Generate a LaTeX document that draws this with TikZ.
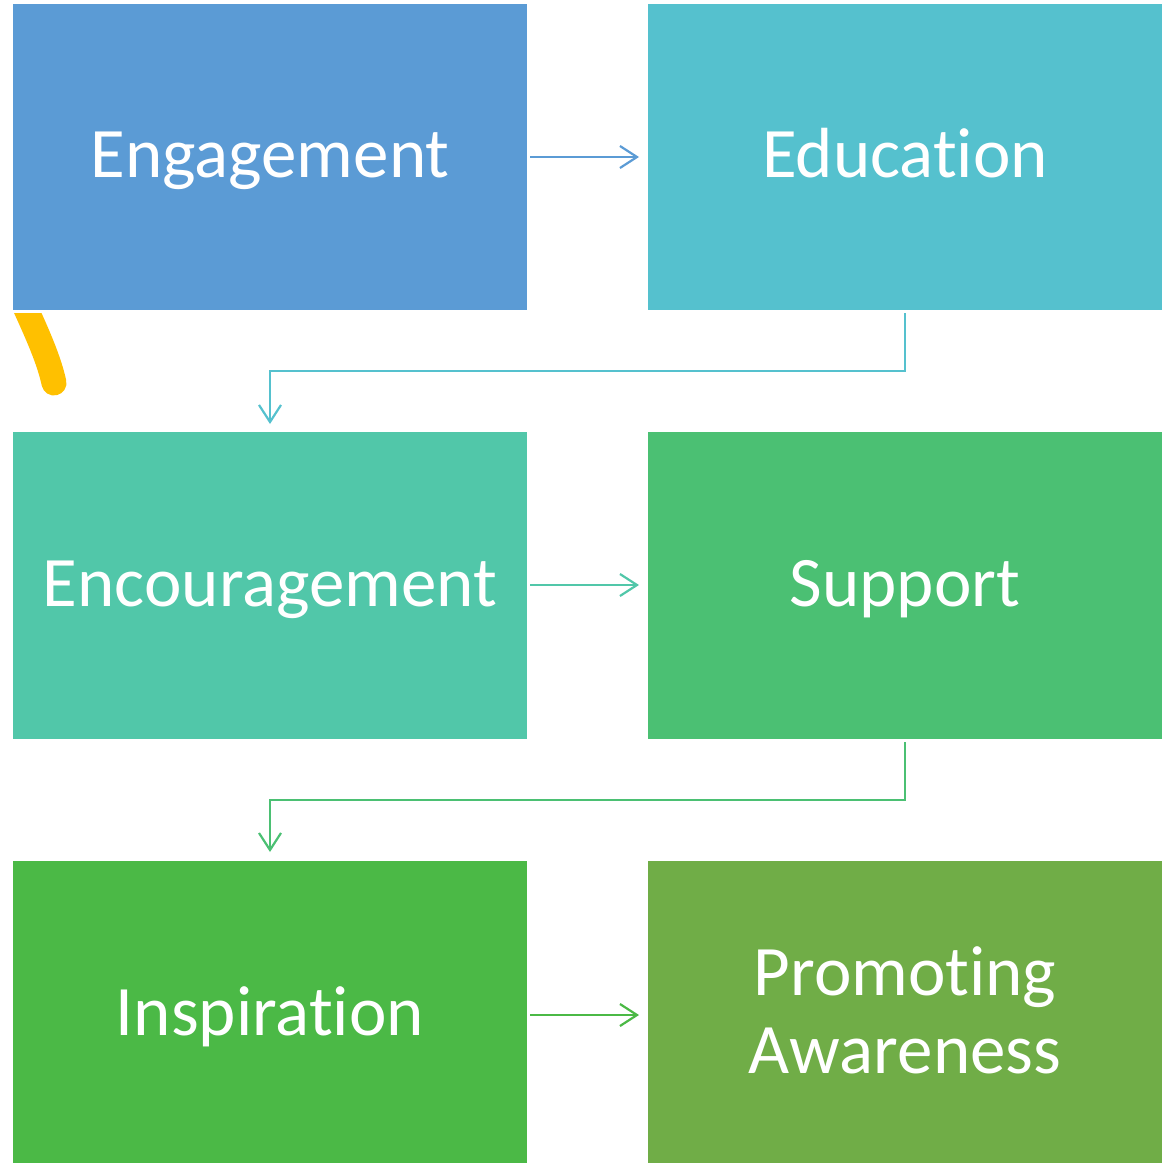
\documentclass[tikz,border=0pt]{standalone}
\usepackage{fontspec}
\setmainfont{Carlito}[Ligatures={TeX,NoCommon,NoRare,NoContextual},RawFeature={-liga,-clig,-dlig,-calt,-hlig}]
\usetikzlibrary{arrows.meta}
\definecolor{cA}{HTML}{5B9BD5}
\definecolor{cB}{HTML}{55C1CE}
\definecolor{cC}{HTML}{51C7A9}
\definecolor{cD}{HTML}{4BC073}
\definecolor{cE}{HTML}{4BB946}
\definecolor{cF}{HTML}{70AD47}
\definecolor{cY}{HTML}{FFC000}
\tikzset{
  box/.style={rectangle, minimum width=514pt, inner sep=0pt, outer sep=0pt, draw=none},
  lbl/.style={text=white, font=\fontsize{71}{78}\selectfont, anchor=base, align=center, inner sep=0pt},
  conn/.style={line width=2.2pt, -{Straight Barb[length=17pt,width=22pt,line width=2.2pt]}},
}
\begin{document}
\begin{tikzpicture}[x=1pt,y=-1pt]
\useasboundingbox (0,0) rectangle (1163,1164);
\node[box, fill=cA, minimum height=306pt] (b1) at (270,157) {};
\node[box, fill=cB, minimum height=306pt] (b2) at (905,157) {};
\node[box, fill=cC, minimum height=307pt] (b3) at (270,585.5) {};
\node[box, fill=cD, minimum height=307pt] (b4) at (905,585.5) {};
\node[box, fill=cE, minimum height=302pt] (b5) at (270,1012) {};
\node[box, fill=cF, minimum height=302pt] (b6) at (905,1012) {};
\node[lbl] (t1) at (270,177) {Engagement};
\node[lbl] (t2) at (905,177) {Education};
\node[lbl] (t3) at (270,606) {Encouragement};
\node[lbl] (t4) at (905,606) {Support};
\node[lbl] (t5) at (270,1035) {Inspiration};
\node[lbl] (t6) at (905,1073) {Promoting\\Awareness};
% connectors
\draw[conn, cA, shorten <=3pt, shorten >=9pt] (b1.east) -- (b2.west);
\draw[conn, cC, shorten <=3pt, shorten >=9pt] ([yshift=0.5pt]b3.east) -- ([yshift=0.5pt]b4.west);
\draw[conn, cE, shorten <=3pt, shorten >=9pt] ([yshift=-3pt]b5.east) -- ([yshift=-3pt]b6.west);
\coordinate (m1) at (0,371);
\coordinate (m2) at (0,800);
\draw[conn, cB, shorten <=3pt, shorten >=8pt] (b2.south) -- (b2.south |- m1) -| (b3.north);
\draw[conn, cD, shorten <=3pt, shorten >=9pt] (b4.south) -- (b4.south |- m2) -| (b5.north);
% yellow stroke
\begin{scope}
\clip (0,313) rectangle (120,420);
\draw[cY, line width=25pt, line cap=round] (20,296) .. controls (38,335) and (49,360) .. (54,383);
\end{scope}
\end{tikzpicture}
\end{document}
